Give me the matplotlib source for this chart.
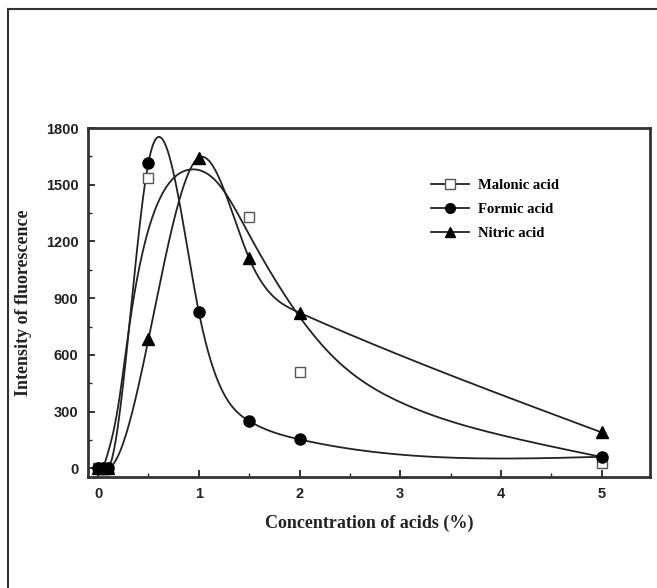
import numpy as np
import matplotlib
matplotlib.use("Agg")
import matplotlib.pyplot as plt
from matplotlib.lines import Line2D

# ---- data ----
formic_x = [0, 0.05, 0.1, 0.5, 1.0, 1.5, 2.0, 5.0]
formic_y = [0, 0, 0, 1617, 828, 250, 153, 61]

nitric_x = [0, 0.05, 0.1, 0.5, 1.0, 1.5, 2.0, 5.0]
nitric_y = [0, 0, 0, 682, 1643, 1111, 823, 190]

malonic_x = [0, 0.1, 0.5, 1.5, 2.0, 5.0]
malonic_y = [0, 0, 1534, 1328, 511, 30]

# fitted curve of malonic acid
malonic_fit_x = [0.05, 0.2, 0.3, 0.44, 0.53, 0.66, 0.89, 1.19, 1.5, 2.0, 2.3, 3.0, 4.0, 5.0]
malonic_fit_y = [0, 330, 714, 1138, 1314, 1473, 1578, 1508, 1236, 802, 608, 350, 176, 60]

x_ticks = [0, 1, 2, 3, 4, 5]
y_ticks = [0, 300, 600, 900, 1200, 1500, 1800]

labels = ["Malonic acid", "Formic acid", "Nitric acid"]
xlabel = "Concentration of acids (%)"
ylabel = "Intensity of fluorescence"

SERIF = ["Liberation Serif", "DejaVu Serif"]
SANS = ["Liberation Sans", "DejaVu Sans"]


def natural_spline(t, v, tt):
    t = np.asarray(t, float)
    v = np.asarray(v, float)
    n = len(t)
    h = np.diff(t)
    A = np.zeros((n, n))
    b = np.zeros(n)
    A[0, 0] = 1
    A[-1, -1] = 1
    for i in range(1, n - 1):
        A[i, i - 1] = h[i - 1]
        A[i, i] = 2 * (h[i - 1] + h[i])
        A[i, i + 1] = h[i]
        b[i] = 3 * ((v[i + 1] - v[i]) / h[i] - (v[i] - v[i - 1]) / h[i - 1])
    c = np.linalg.solve(A, b)
    idx = np.clip(np.searchsorted(t, tt) - 1, 0, n - 2)
    d = tt - t[idx]
    hi = h[idx]
    bi = (v[idx + 1] - v[idx]) / hi - hi * (2 * c[idx] + c[idx + 1]) / 3
    di = (c[idx + 1] - c[idx]) / (3 * hi)
    return v[idx] + bi * d + c[idx] * d * d + di * d ** 3


fig = plt.figure(figsize=(6.57, 5.88), dpi=100)
ax = fig.add_axes([88 / 657, 1 - 477 / 588, 562 / 657, 349 / 588])
ax.set_xlim(-0.1, 5.48)
ax.set_ylim(-46, 1800)

lc = "#222222"
lw = 1.3

xs = np.linspace(0, 5, 1000)
ax.plot(xs, natural_spline(formic_x, formic_y, xs), color=lc, lw=lw, zorder=2)
ax.plot(xs, natural_spline(nitric_x, nitric_y, xs), color=lc, lw=lw, zorder=2)
mxs = np.linspace(malonic_fit_x[0], malonic_fit_x[-1], 600)
ax.plot(mxs, natural_spline(malonic_fit_x, malonic_fit_y, mxs), color=lc, lw=lw, zorder=2)

ax.plot(malonic_x, malonic_y, ls="none", marker="s", ms=6.5, mfc="white",
        mec="#555555", mew=1.0, zorder=3)
ax.plot(formic_x, formic_y, ls="none", marker="o", ms=8, mfc="black",
        mec="black", zorder=4)
ax.plot(nitric_x, nitric_y, ls="none", marker="^", ms=8, mfc="black",
        mec="black", zorder=4)

handles = [
    Line2D([], [], color=lc, lw=lw, marker="s", ms=6.5, mfc="white", mec="#555555"),
    Line2D([], [], color=lc, lw=lw, marker="o", ms=7, mfc="black", mec="black"),
    Line2D([], [], color=lc, lw=lw, marker="^", ms=7, mfc="black", mec="black"),
]
leg = ax.legend(handles, labels, loc="upper left", bbox_to_anchor=(0.598, 0.875),
                frameon=False, borderpad=0, handlelength=2.6, handletextpad=0.6,
                labelspacing=0.75,
                prop={"family": SERIF, "weight": "bold", "size": 10.5})

ax.set_xticks(x_ticks)
ax.set_yticks(y_ticks)
ax.set_xticks(np.arange(0.5, 5.5, 1.0), minor=True)
ax.set_yticks(np.arange(150, 1800, 300), minor=True)
ax.tick_params(which="both", direction="in", top=False, right=False, color=lc)
ax.tick_params(which="major", length=5, width=1.3, pad=7)
ax.tick_params(which="minor", length=3, width=1.0)
for lab in ax.get_xticklabels() + ax.get_yticklabels():
    lab.set_family(SANS)
    lab.set_fontweight("bold")
    lab.set_fontsize(10.5)
    lab.set_color("#222222")

for s in ax.spines.values():
    s.set_linewidth(2.0)
    s.set_color("#333333")

ax.set_xlabel(xlabel, family=SERIF, fontweight="bold", fontsize=13, labelpad=10, color="#222222")
ax.set_ylabel(ylabel, family=SERIF, fontweight="bold", fontsize=13, labelpad=10, color="#222222")

fig.add_artist(Line2D([8 / 657, 8 / 657], [0, 1 - 9 / 588], transform=fig.transFigure,
                      color="#333333", lw=1.5))
fig.add_artist(Line2D([8 / 657, 1], [1 - 9 / 588, 1 - 9 / 588], transform=fig.transFigure,
                      color="#333333", lw=1.5))

fig.savefig("out.png", dpi=100)
